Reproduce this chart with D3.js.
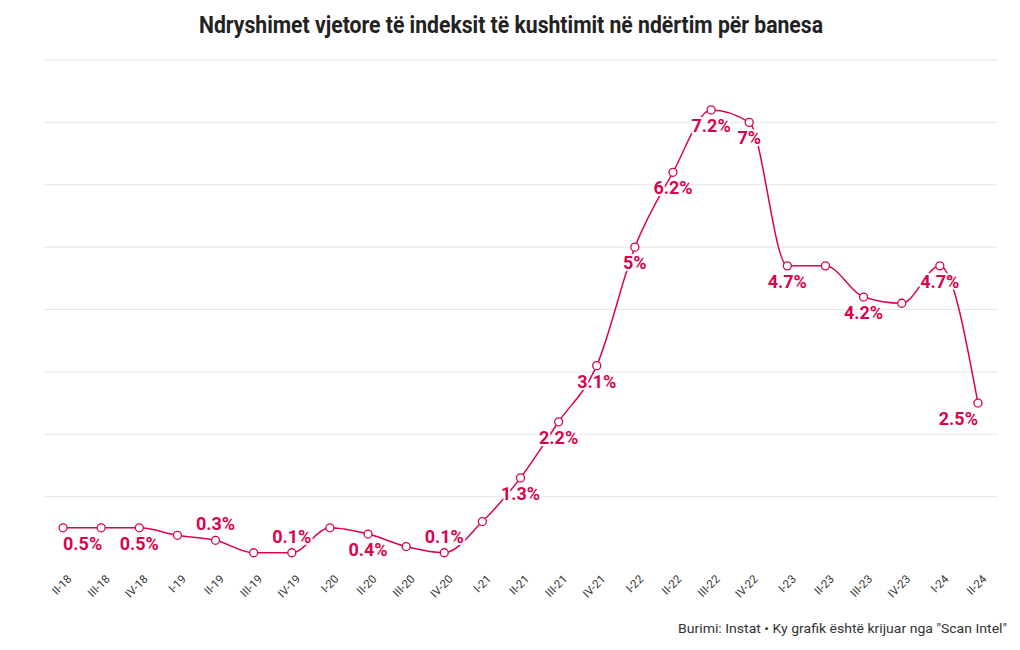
<!DOCTYPE html>
<html>
<head>
<meta charset="utf-8">
<script src="https://cdn.jsdelivr.net/npm/d3@7"></script>
<style>
  html, body { margin: 0; padding: 0; background: #fff; }
  svg { display: block; }
</style>
</head>
<body>
<div id="chart"></div>
<script>
const quarters = ["II-18","III-18","IV-18","I-19","II-19","III-19","IV-19","I-20","II-20","III-20","IV-20","I-21","II-21","III-21","IV-21","I-22","II-22","III-22","IV-22","I-23","II-23","III-23","IV-23","I-24","II-24"];
const values = [0.5,0.5,0.5,0.38,0.3,0.1,0.1,0.5,0.4,0.2,0.1,0.6,1.3,2.2,3.1,5.0,6.2,7.2,7.0,4.7,4.7,4.2,4.1,4.7,2.5];
const labels = ["0.5%","","0.5%","","0.3%","","0.1%","","0.4%","","0.1%","","1.3%","2.2%","3.1%","5%","6.2%","7.2%","7%","4.7%","","4.2%","","4.7%","2.5%"];
const gridTicks = [1,2,3,4,5,6,7,8];
const titleText = "Ndryshimet vjetore të indeksit të kushtimit në ndërtim për banesa";
const footerText = "Burimi: Instat \u2022 Ky grafik është krijuar nga \"Scan Intel\"";

const W = 1020, H = 650;
const color = "#d9044f";
const font = "Roboto, 'Noto Sans', sans-serif";

const svg = d3.select("#chart").append("svg").attr("width", W).attr("height", H);

const x = d3.scalePoint().domain(quarters).range([44, 997]).padding(0.5);
const y = d3.scaleLinear().domain([0, 8]).range([559, 60]);

// title
svg.append("text")
  .attr("x", 511).attr("y", 33)
  .attr("text-anchor", "middle")
  .attr("font-family", font).attr("font-weight", 700).attr("font-size", 23)
  .attr("fill", "#222")
  .attr("textLength", 624).attr("lengthAdjust", "spacingAndGlyphs")
  .text(titleText);

// grid
svg.append("g").selectAll("line").data(gridTicks).join("line")
  .attr("x1", 44).attr("x2", 998)
  .attr("y1", d => y(d)).attr("y2", d => y(d))
  .attr("stroke", "#e6e6e6").attr("stroke-width", 1);

// x axis
const xAxis = svg.append("g").attr("transform", "translate(0,566)")
  .call(d3.axisBottom(x).tickSize(0).tickPadding(0));
xAxis.select(".domain").remove();
xAxis.selectAll(".tick text")
  .attr("font-family", font).attr("font-size", 11.5).attr("fill", "#333")
  .attr("text-anchor", "end")
  .attr("x", 0).attr("y", 0).attr("dx", "-0.3em").attr("dy", "0.9em")
  .attr("transform", "translate(4,4) rotate(-45)");

const data = quarters.map((q, i) => ({ q, v: values[i], label: labels[i] }));

// line
const line = d3.line().x(d => x(d.q)).y(d => y(d.v)).curve(d3.curveMonotoneX);
svg.append("path").datum(data)
  .attr("d", line).attr("fill", "none")
  .attr("stroke", color).attr("stroke-width", 1.5);

// markers
svg.append("g").selectAll("circle").data(data).join("circle")
  .attr("cx", d => x(d.q)).attr("cy", d => y(d.v)).attr("r", 4)
  .attr("fill", "#fff").attr("stroke", color).attr("stroke-width", 1.3);

// labels
const above = new Set(["II-19", "IV-19", "IV-20"]);
const xMin = x(quarters[0]), xMax = x(quarters[quarters.length - 1]);
const lg = svg.append("g");
data.filter(d => d.label).forEach(d => {
  const t = lg.append("text")
    .attr("font-family", font).attr("font-weight", 700).attr("font-size", 18)
    .attr("fill", color)
    .attr("stroke", "#fff").attr("stroke-width", 4).attr("paint-order", "stroke")
    .attr("stroke-linejoin", "round")
    .attr("text-anchor", "middle")
    .attr("y", above.has(d.q) ? y(d.v) - 10 : y(d.v) + 22)
    .text(d.label);
  const w = t.node().getComputedTextLength();
  let cx = x(d.q);
  if (cx - w / 2 < xMin) cx = xMin + w / 2;
  if (cx + w / 2 > xMax) cx = xMax - w / 2;
  t.attr("x", cx);
});

// footer
svg.append("text")
  .attr("x", 1007).attr("y", 633)
  .attr("text-anchor", "end")
  .attr("font-family", font).attr("font-size", 13).attr("fill", "#333")
  .attr("textLength", 329).attr("lengthAdjust", "spacingAndGlyphs")
  .text(footerText);
</script>
</body>
</html>
